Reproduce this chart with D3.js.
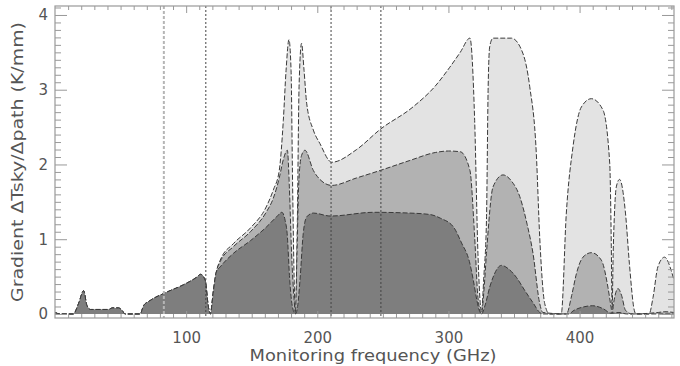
<!DOCTYPE html>
<html>
<head>
<meta charset="utf-8">
<script src="https://cdn.jsdelivr.net/npm/d3@7"></script>
<style>
  body { margin: 0; background: #fff; }
  svg { display: block; }
  text { font-family: "DejaVu Sans", sans-serif; fill: #555; }
</style>
</head>
<body>
<div id="chart"></div>
<script>
// values (GHz, K/mm)
const lowBand = [
  [0, 0.02], [4, 0.0], [14, 0.0], [18, 0.14], [21.8, 0.31], [24.4, 0.11],
  [27, 0.06], [41, 0.06], [43.5, 0.08], [48.5, 0.08], [51, 0.05], [53.5, 0],
  [65, 0], [67.5, 0.11], [72.6, 0.18], [85, 0.29], [98, 0.39], [108, 0.49],
  [111, 0.53], [114.5, 0.45], [117, 0.09], [118.4, 0], [120.8, 0.31], [123, 0.56]
];

const darkBand = [
  [126, 0.63], [136, 0.81], [149, 0.98], [161, 1.16], [169, 1.3], [173, 1.36],
  [175.5, 1.25], [177, 1.08], [179, 0.45], [181, 0.1], [183.3, 0], [185, 0.1],
  [186.8, 0.45], [189.3, 1.08], [192, 1.3], [197, 1.35], [210, 1.31], [243, 1.36],
  [270, 1.35], [286, 1.33], [294, 1.28], [304, 1.16], [310, 0.95], [316, 0.7],
  [319, 0.45], [321.5, 0.2], [323.5, 0.05], [325.2, 0], [328, 0.12], [331.5, 0.36],
  [334, 0.49], [340.4, 0.65], [346, 0.6], [351.8, 0.49], [358, 0.32], [364.5, 0.15],
  [369.6, 0.02], [372, 0], [392, 0], [395, 0.04], [402, 0.09], [410, 0.11],
  [418, 0.07], [424, 0.01], [430, 0.02], [436, 0], [472, 0]
];

const midBand = [
  [126, 0.7], [136, 0.9], [149, 1.1], [161, 1.36], [166.5, 1.55], [171, 1.82],
  [174, 2.06], [177.2, 2.19], [178.7, 1.7], [180.4, 0.81], [182.3, 0.2], [183.3, 0],
  [184.5, 0.8], [186, 1.8], [188, 2.12], [190.6, 2.19], [197, 1.92], [202, 1.8],
  [211, 1.72], [230, 1.82], [248, 1.92], [270, 2.05], [290, 2.16], [300, 2.18],
  [309, 2.17], [316.4, 1.92], [320, 1.03], [322.5, 0.22], [325.2, 0], [327, 0.3],
  [329, 0.81], [334, 1.7], [341.6, 1.86], [348, 1.78], [354.4, 1.57], [360, 1.2],
  [364.5, 0.81], [369.6, 0.14], [372, 0.02], [390, 0], [394, 0.25], [397.6, 0.54],
  [402.6, 0.76], [409, 0.82], [416.6, 0.72], [421.6, 0.36], [424, 0.09], [424.8, 0],
  [426, 0.15], [429.3, 0.34], [432, 0.25], [435, 0.05], [440, 0], [460, 0.02],
  [465, 0.03], [472, 0.02]
];

const lightBand = [
  [126, 0.72], [136, 0.94], [149, 1.15], [161, 1.43], [166.5, 1.66], [171, 1.92],
  [174.1, 2.59], [176.2, 3.26], [178.4, 3.67], [180, 3.26], [181.2, 1.7], [182.5, 0.36],
  [183.4, 0], [184.8, 1.25], [186.1, 3.04], [188, 3.62], [189.9, 3.26], [191.9, 2.82],
  [197, 2.46], [202, 2.28], [211, 2.03], [230, 2.2], [248, 2.47], [273, 2.77],
  [290, 3.05], [301, 3.3], [309, 3.5], [316.4, 3.69], [320, 2.59], [322.5, 0.81],
  [325.2, 0.03], [327, 0.5], [329, 1.25], [330.3, 3.04], [331.5, 3.58], [334, 3.69],
  [348, 3.69], [356.7, 3.49], [362, 3.04], [367, 2.15], [369.6, 1.03], [373.4, 0.14],
  [377, 0], [386, 0], [389.9, 1.35], [395, 2.24], [401.4, 2.77], [409, 2.88],
  [417.8, 2.73], [423, 2.01], [424.2, 0.9], [424.8, 0.05], [425.6, 0.8], [426.5, 1.3],
  [428, 1.7], [430.5, 1.8], [435, 1.35], [438, 0.67], [441.7, 0.05], [443, 0],
  [453, 0], [456, 0.22], [459.7, 0.63], [464.8, 0.76], [469.9, 0.58], [472, 0.45]
];

const lightMarkers = [83];
const darkMarkers = [115, 210.5, 248.5];

const xTicks = [100, 200, 300, 400];
const yTicks = [0, 1, 2, 3, 4];

const width = 680, height = 366;
const margin = { left: 55, right: 6, top: 6, bottom: 48 };

const x = d3.scaleLinear().domain([0, 472]).range([margin.left, width - margin.right]);
const y = d3.scaleLinear().domain([-0.054, 4.12]).range([height - margin.bottom, margin.top]);

const svg = d3.select("#chart").append("svg")
  .attr("width", width)
  .attr("height", height);

svg.append("clipPath").attr("id", "plot-clip")
  .append("rect")
  .attr("x", x.range()[0]).attr("y", y.range()[1])
  .attr("width", x.range()[1] - x.range()[0])
  .attr("height", y.range()[0] - y.range()[1]);

const plot = svg.append("g").attr("clip-path", "url(#plot-clip)");

const area = d3.area()
  .x((d) => x(d[0]))
  .y0(y(0))
  .y1((d) => y(d[1]))
  .curve(d3.curveMonotoneX);

const line = d3.line()
  .x((d) => x(d[0]))
  .y((d) => y(d[1]))
  .curve(d3.curveMonotoneX);

// back to front: light, mid, dark
const layers = [
  { pts: lowBand.concat(lightBand), fill: "#e3e3e3" },
  { pts: lowBand.concat(midBand), fill: "#b2b2b2" },
  { pts: lowBand.concat(darkBand), fill: "#7e7e7e" },
];

layers.forEach((l) => {
  plot.append("path")
    .datum(l.pts)
    .attr("d", area)
    .attr("fill", l.fill);
  plot.append("path")
    .datum(l.pts)
    .attr("d", line)
    .attr("fill", "none")
    .attr("stroke", "#3a3a3a")
    .attr("stroke-width", 1)
    .attr("stroke-dasharray", "5 2");
});

// vertical marker lines
plot.selectAll(".mk-light")
  .data(lightMarkers)
  .join("line")
  .attr("x1", (d) => x(d)).attr("x2", (d) => x(d))
  .attr("y1", y.range()[1]).attr("y2", y.range()[0])
  .attr("stroke", "#b5b5b5")
  .attr("stroke-width", 2)
  .attr("stroke-dasharray", "3 2");

plot.selectAll(".mk-dark")
  .data(darkMarkers)
  .join("line")
  .attr("x1", (d) => x(d)).attr("x2", (d) => x(d))
  .attr("y1", y.range()[1]).attr("y2", y.range()[0])
  .attr("stroke", "#444")
  .attr("stroke-width", 1)
  .attr("stroke-dasharray", "2 2");

// axes
const axisColor = "#999";
const xMinor = d3.range(10, 472, 10).filter((v) => v % 100 !== 0);
const yMinor = d3.range(0, 4.11, 0.1).filter((v) => Math.abs(v - Math.round(v)) > 0.01);

function styleAxis(g) {
  g.select(".domain").remove();
  g.selectAll(".tick line").attr("stroke", axisColor);
  g.selectAll("text").attr("fill", "#555").style("font-size", "15px")
    .style("font-family", "DejaVu Sans, sans-serif");
}

const bottomY = y.range()[0], topY = y.range()[1];
const leftX = x.range()[0], rightX = x.range()[1];

// bottom: majors with labels, minors
svg.append("g").attr("transform", `translate(0,${bottomY})`)
  .call(d3.axisTop(x).tickValues(xTicks).tickSize(7).tickFormat(""))
  .call(styleAxis);
svg.append("g").attr("transform", `translate(0,${bottomY})`)
  .call(d3.axisTop(x).tickValues(xMinor).tickSize(4).tickFormat(""))
  .call(styleAxis);
svg.append("g").attr("transform", `translate(0,${bottomY})`)
  .call(d3.axisBottom(x).tickValues(xTicks).tickSize(0).tickPadding(14).tickFormat(d3.format("d")))
  .call(styleAxis);

// top mirror
svg.append("g").attr("transform", `translate(0,${topY})`)
  .call(d3.axisBottom(x).tickValues(xTicks).tickSize(7).tickFormat(""))
  .call(styleAxis);
svg.append("g").attr("transform", `translate(0,${topY})`)
  .call(d3.axisBottom(x).tickValues(xMinor).tickSize(4).tickFormat(""))
  .call(styleAxis);

// left
svg.append("g").attr("transform", `translate(${leftX},0)`)
  .call(d3.axisRight(y).tickValues(yTicks).tickSize(12).tickFormat(""))
  .call(styleAxis);
svg.append("g").attr("transform", `translate(${leftX},0)`)
  .call(d3.axisRight(y).tickValues(yMinor).tickSize(6).tickFormat(""))
  .call(styleAxis);
svg.append("g").attr("transform", `translate(${leftX},0)`)
  .call(d3.axisLeft(y).tickValues(yTicks).tickSize(0).tickPadding(7).tickFormat(d3.format("d")))
  .call(styleAxis);

// right mirror
svg.append("g").attr("transform", `translate(${rightX},0)`)
  .call(d3.axisLeft(y).tickValues(yTicks).tickSize(12).tickFormat(""))
  .call(styleAxis);
svg.append("g").attr("transform", `translate(${rightX},0)`)
  .call(d3.axisLeft(y).tickValues(yMinor).tickSize(6).tickFormat(""))
  .call(styleAxis);

// frame
svg.append("rect")
  .attr("x", leftX).attr("y", topY)
  .attr("width", rightX - leftX).attr("height", bottomY - topY)
  .attr("fill", "none")
  .attr("stroke", axisColor)
  .attr("stroke-width", 1.2);

// titles
svg.append("text")
  .attr("x", 373).attr("y", 361)
  .attr("text-anchor", "middle")
  .style("font-size", "15px")
  .attr("textLength", 247)
  .attr("lengthAdjust", "spacingAndGlyphs")
  .text("Monitoring frequency (GHz)");

svg.append("text")
  .attr("transform", `translate(23,${(topY + bottomY) / 2}) rotate(-90)`)
  .attr("text-anchor", "middle")
  .style("font-size", "15px")
  .attr("textLength", 280)
  .attr("lengthAdjust", "spacingAndGlyphs")
  .text("Gradient ΔTsky/Δpath (K/mm)");
</script>
</body>
</html>
